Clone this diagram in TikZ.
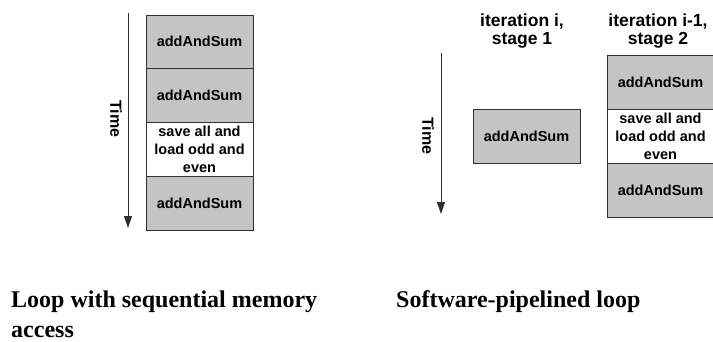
\documentclass[tikz,border=0pt]{standalone}
\usepackage{fontspec}
\setmainfont{Liberation Serif}
\newfontfamily\boxfont{Liberation Sans}
\usetikzlibrary{arrows.meta}
\definecolor{stagefill}{HTML}{C4C4C4}
\definecolor{edge}{HTML}{303030}
\tikzset{
  stagebox/.style={draw=edge, line width=0.9pt, fill=stagefill, minimum width=107pt,
    inner sep=0pt, align=center, font=\boxfont\bfseries\fontsize{14.5}{18}\selectfont},
  idlebox/.style={stagebox, fill=white},
  timearrow/.style={draw=edge, line width=0.9pt, -{Triangle[length=12pt,width=8pt]}},
  timelabel/.style={rotate=-90, font=\boxfont\bfseries\fontsize{16}{18}\selectfont},
  header/.style={align=center, font=\boxfont\bfseries\fontsize{17.5}{18.5}\selectfont},
  caption/.style={anchor=base west, align=left, inner sep=0pt,
    font=\bfseries\fontsize{24}{30}\selectfont}
}
\begin{document}
\begin{tikzpicture}[x=1pt, y=-1pt]
\useasboundingbox (0,0) rectangle (713,341);

% sequential loop: one column of stages
\node[stagebox, minimum height=53pt] (s1) at (199.5,41.5) {addAndSum};
\node[stagebox, minimum height=54pt] (s2) at (199.5,95) {addAndSum};
\node[idlebox,  minimum height=54pt] (s3) at (199.5,149) {save all and\\load odd and\\even};
\node[stagebox, minimum height=54pt] (s4) at (199.5,203) {addAndSum};

\coordinate (t1a) at (128,13);
\coordinate (t1b) at (128,228);
\draw[timearrow] (t1a) -- (t1b);
\node[timelabel] (time1) at (116,119) {Time};

% software-pipelined loop: two overlapping iterations
\node[header] (h1) at (522,31) {iteration i,\\stage 1};
\node[header] (h2) at (658,31) {iteration i-1,\\stage 2};

\node[stagebox, minimum height=54pt] (p1) at (526.5,136) {addAndSum};

\node[stagebox, minimum height=54pt] (q1) at (660.5,82) {addAndSum};
\node[idlebox,  minimum height=54pt] (q2) at (660.5,136) {save all and\\load odd and\\even};
\node[stagebox, minimum height=54pt] (q3) at (660.5,190) {addAndSum};

\coordinate (t2a) at (441,53);
\coordinate (t2b) at (441,214);
\draw[timearrow] (t2a) -- (t2b);
\node[timelabel] (time2) at (428,136) {Time};

% captions
\node[caption] (c1) at (11,337) {Loop with sequential memory\\access};
\node[caption] (c2) at (396,307) {Software-pipelined loop};
\end{tikzpicture}
\end{document}
